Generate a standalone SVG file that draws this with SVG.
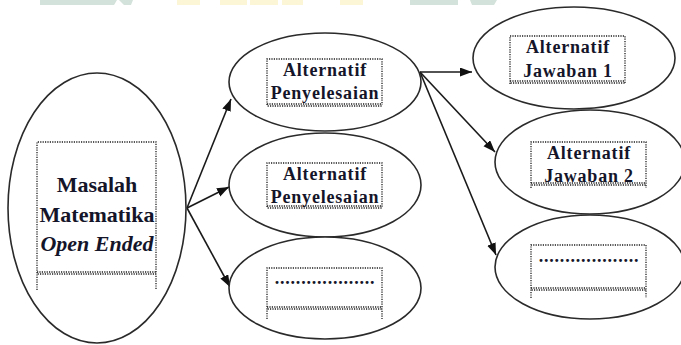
<svg xmlns="http://www.w3.org/2000/svg" width="681" height="345" viewBox="0 0 681 345">
<style>
.ell{fill:#fff;stroke:#2a2a2a;stroke-width:1.6}
.box{fill:none;stroke:#1e1e1e;stroke-width:1.3;stroke-dasharray:1.2 1.2}
.wav{fill:none;stroke:#1e1e1e;stroke-width:1.3;stroke-dasharray:1.2 1.2}
.t{font-family:"Liberation Serif","Times New Roman",serif;font-weight:bold;fill:#15152a;text-anchor:middle}
.s18{font-size:18px;letter-spacing:0.8px}
.s22{font-size:22px}
.con{stroke:#1a1a1a;stroke-width:1.6;fill:none;marker-end:url(#ah)}
.wm-g{fill:#d3e2da}
.wm-y{fill:#fdf6d6}
</style>
<defs>
<marker id="ah" markerUnits="userSpaceOnUse" markerWidth="13" markerHeight="10" refX="12" refY="4.5" orient="auto">
<path d="M0,0 L12,4.5 L0,9 z" fill="#111"/>
</marker>
</defs>
<rect width="681" height="345" fill="#fff"/>
<g id="watermark">
<polygon class="wm-g" points="40,0 117,0 114,5 40,5"/>
<polygon class="wm-g" points="119,0 133,0 131,5 124,5"/>
<rect class="wm-y" x="177" y="0" width="23" height="5"/>
<rect class="wm-y" x="220" y="0" width="27" height="5"/>
<rect class="wm-y" x="250" y="0" width="28" height="5"/>
<rect class="wm-y" x="282" y="0" width="21" height="5"/>
<rect class="wm-y" x="340" y="0" width="23" height="5"/>
<rect class="wm-g" x="410" y="0" width="48" height="5"/>
<polygon class="wm-g" points="470,0 497,0 494,5 472,5"/>
</g>
<g id="connectors">
<line class="con" x1="187" y1="208" x2="231" y2="99"/>
<line class="con" x1="187" y1="208" x2="229" y2="187"/>
<line class="con" x1="187" y1="208" x2="230" y2="287"/>
<line class="con" x1="420" y1="72" x2="472" y2="72"/>
<line class="con" x1="420" y1="72" x2="495" y2="152"/>
<line class="con" x1="420" y1="72" x2="496" y2="255"/>
</g>
<g id="masalah">
<ellipse class="ell" cx="97" cy="208" rx="89" ry="135"/>
<path class="box" d="M37,290 V142 H156 V290"/>
<line class="wav" x1="37" y1="272" x2="156" y2="272"/>
<line class="wav" x1="37.6" y1="274" x2="156" y2="274"/>
<text class="t s22" x="97" y="192">Masalah</text>
<text class="t s22" x="97" y="222">Matematika</text>
<text class="t s22" x="97" y="251" font-style="italic">Open Ended</text>
</g>
<g id="penyelesaian1">
<ellipse class="ell" cx="325" cy="82" rx="96" ry="49"/>
<path class="box" d="M267,105 V59 H382 V105"/>
<line class="wav" x1="267" y1="104" x2="382" y2="104"/>
<line class="wav" x1="267.6" y1="106" x2="382" y2="106"/>
<text class="t s18" x="325" y="76">Alternatif</text>
<text class="t s18" x="325" y="99">Penyelesaian</text>
</g>
<g id="penyelesaian2">
<ellipse class="ell" cx="325" cy="185" rx="96" ry="52"/>
<path class="box" d="M267,207 V163 H382 V207"/>
<line class="wav" x1="267" y1="206" x2="382" y2="206"/>
<line class="wav" x1="267.6" y1="208" x2="382" y2="208"/>
<text class="t s18" x="325" y="180">Alternatif</text>
<text class="t s18" x="325" y="203">Penyelesaian</text>
</g>
<g id="penyelesaian3">
<ellipse class="ell" cx="325" cy="288" rx="96" ry="51"/>
<path class="box" d="M267,319 V268 H382 V319"/>
<line class="wav" x1="267" y1="307" x2="382" y2="307"/>
<line class="wav" x1="267.6" y1="309" x2="382" y2="309"/>
<text class="t s18" x="325" y="284">...................</text>
</g>
<g id="jawaban1">
<ellipse class="ell" cx="574" cy="58" rx="101" ry="51"/>
<path class="box" d="M510,84 V36 H625 V84"/>
<line class="wav" x1="510" y1="81" x2="625" y2="81"/>
<line class="wav" x1="510.6" y1="83" x2="625" y2="83"/>
<text class="t s18" x="568" y="53">Alternatif</text>
<text class="t s18" x="568" y="77">Jawaban 1</text>
</g>
<g id="jawaban2">
<ellipse class="ell" cx="590" cy="162" rx="95" ry="52"/>
<path class="box" d="M531,188 V142 H646 V188"/>
<line class="wav" x1="531" y1="183" x2="646" y2="183"/>
<line class="wav" x1="531.6" y1="185" x2="646" y2="185"/>
<text class="t s18" x="589" y="159">Alternatif</text>
<text class="t s18" x="589" y="182">Jawaban 2</text>
</g>
<g id="jawaban3">
<ellipse class="ell" cx="590" cy="267" rx="95" ry="52"/>
<path class="box" d="M531,298 V245 H646 V298"/>
<line class="wav" x1="531" y1="288" x2="646" y2="288"/>
<line class="wav" x1="531.6" y1="290" x2="646" y2="290"/>
<text class="t s18" x="589" y="262">...................</text>
</g>
</svg>
